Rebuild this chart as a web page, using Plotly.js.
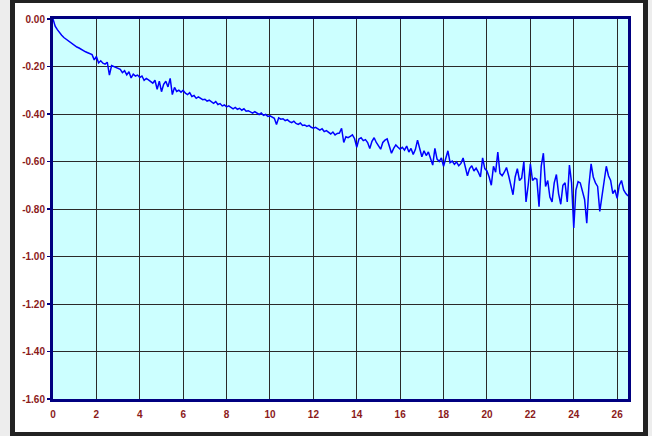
<!DOCTYPE html>
<html>
<head>
<meta charset="utf-8">
<script src="https://cdn.plot.ly/plotly-3.0.1.min.js"></script>
<style>
  html, body { margin:0; padding:0; width:652px; height:436px; overflow:hidden; background:#ededed; }
  #frame { position:absolute; left:10px; top:-2px; width:628px; height:429px; border:5px solid #222222; background:#ffffff; }
  #chart { position:absolute; left:0; top:0; width:652px; height:436px; }
</style>
</head>
<body>
<div id="frame"></div>
<div id="chart"></div>
<script>
// x starts at 0, step 0.1
const xStart = 0;
const xStep = 0.1;
const yValues = [
  0, -0.030, -0.045, -0.058, -0.068, -0.078, -0.085, -0.092, -0.100, -0.106,
  -0.112, -0.118, -0.122, -0.128, -0.134, -0.138, -0.142, -0.146, -0.150, -0.172,
  -0.158, -0.185, -0.176, -0.186, -0.190, -0.182, -0.236, -0.196, -0.200, -0.205,
  -0.210, -0.212, -0.226, -0.218, -0.235, -0.222, -0.248, -0.232, -0.240, -0.236,
  -0.246, -0.240, -0.258, -0.250, -0.256, -0.262, -0.270, -0.258, -0.296, -0.262,
  -0.306, -0.275, -0.262, -0.286, -0.250, -0.318, -0.288, -0.305, -0.300, -0.308,
  -0.300, -0.312, -0.318, -0.310, -0.326, -0.322, -0.334, -0.328, -0.336, -0.340,
  -0.338, -0.346, -0.342, -0.350, -0.355, -0.348, -0.360, -0.356, -0.366, -0.362,
  -0.370, -0.366, -0.374, -0.378, -0.372, -0.380, -0.376, -0.384, -0.378, -0.388,
  -0.386, -0.392, -0.396, -0.390, -0.398, -0.402, -0.396, -0.406, -0.402, -0.410,
  -0.408, -0.414, -0.418, -0.444, -0.416, -0.422, -0.420, -0.428, -0.424, -0.432,
  -0.436, -0.430, -0.440, -0.444, -0.438, -0.448, -0.446, -0.452, -0.448, -0.456,
  -0.460, -0.456, -0.464, -0.468, -0.462, -0.474, -0.470, -0.478, -0.484, -0.476,
  -0.488, -0.482, -0.480, -0.460, -0.520, -0.496, -0.500, -0.494, -0.488, -0.504,
  -0.540, -0.505, -0.500, -0.512, -0.508, -0.520, -0.545, -0.515, -0.500, -0.520,
  -0.535, -0.548, -0.520, -0.510, -0.505, -0.540, -0.565, -0.545, -0.530, -0.540,
  -0.548, -0.540, -0.552, -0.535, -0.560, -0.545, -0.570, -0.550, -0.510, -0.545,
  -0.580, -0.555, -0.575, -0.560, -0.590, -0.615, -0.545, -0.590, -0.600, -0.585,
  -0.620, -0.590, -0.555, -0.605, -0.598, -0.612, -0.602, -0.618, -0.608, -0.585,
  -0.625, -0.660, -0.630, -0.618, -0.640, -0.628, -0.645, -0.665, -0.585, -0.630,
  -0.640, -0.665, -0.700, -0.620, -0.645, -0.560, -0.650, -0.660, -0.645, -0.625,
  -0.660, -0.700, -0.740, -0.665, -0.630, -0.680, -0.670, -0.600, -0.770, -0.700,
  -0.610, -0.680, -0.670, -0.675, -0.790, -0.620, -0.565, -0.705, -0.680, -0.750,
  -0.770, -0.690, -0.655, -0.735, -0.780, -0.700, -0.690, -0.770, -0.615, -0.690,
  -0.880, -0.720, -0.685, -0.690, -0.730, -0.760, -0.860, -0.700, -0.610, -0.665,
  -0.690, -0.705, -0.810, -0.750, -0.700, -0.620, -0.660, -0.680, -0.735, -0.720,
  -0.755, -0.700, -0.680, -0.720, -0.735, -0.745
];
const xTickVals = [0, 2, 4, 6, 8, 10, 12, 14, 16, 18, 20, 22, 24, 26];
const yTickVals = [0, -0.2, -0.4, -0.6, -0.8, -1.0, -1.2, -1.4, -1.6];

const tickFont = { family: 'Liberation Sans, Arial, sans-serif', size: 10, color: '#8b1a1a', weight: 'bold' };

Plotly.newPlot('chart', [{
  type: 'scatter', mode: 'lines',
  x0: xStart, dx: xStep, y: yValues,
  line: { color: '#0000ff', width: 1.5 },
  hoverinfo: 'none'
}], {
  width: 652, height: 436,
  margin: { l: 53, r: 24, t: 19, b: 37, pad: 0 },
  paper_bgcolor: 'rgba(0,0,0,0)',
  plot_bgcolor: '#ccffff',
  showlegend: false,
  xaxis: {
    range: [0, 26.5], tickvals: xTickVals, ticktext: xTickVals.map(String),
    showgrid: true, gridcolor: '#2a2a2a', gridwidth: 1,
    showline: true, mirror: true, linecolor: '#000080', linewidth: 3,
    zeroline: false, ticks: '', tickfont: tickFont, ticklabelstandoff: 4, fixedrange: true
  },
  yaxis: {
    range: [-1.6, 0], tickvals: yTickVals, ticktext: yTickVals.map(v => v.toFixed(2)),
    showgrid: true, gridcolor: '#2a2a2a', gridwidth: 1,
    showline: true, mirror: true, linecolor: '#000080', linewidth: 3,
    zeroline: false, ticks: 'outside', ticklen: 3, tickcolor: '#000080', tickwidth: 1.5,
    tickfont: tickFont, fixedrange: true
  }
}, { staticPlot: true });
</script>
</body>
</html>
